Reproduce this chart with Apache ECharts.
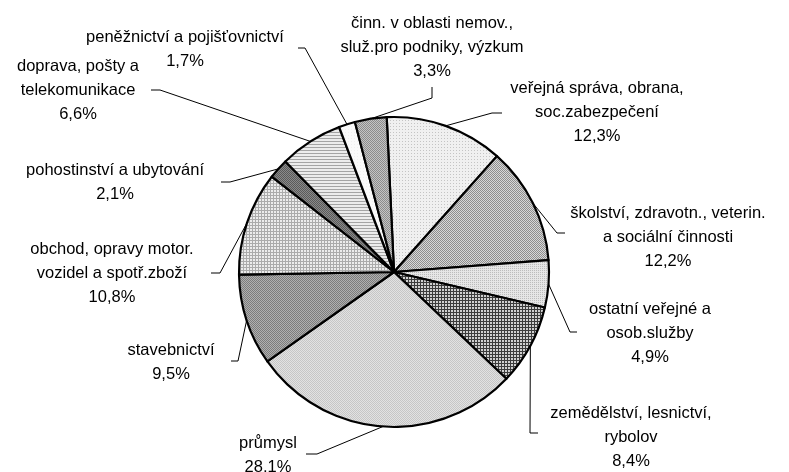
<!DOCTYPE html>
<html>
<head>
<meta charset="utf-8">
<script src="https://cdn.jsdelivr.net/npm/echarts@6/dist/echarts.min.js"></script>
<style>
html,body{margin:0;padding:0;background:#fff;}
#chart{width:789px;height:472px;}
</style>
</head>
<body>
<div id="chart"></div>
<script>
// ---- data ----
var categories = [
  "veřejná správa, obrana,\nsoc.zabezpečení",
  "školství, zdravotn., veterin.\na sociální činnosti",
  "ostatní veřejné a\nosob.služby",
  "zemědělství, lesnictví,\nrybolov",
  "průmysl",
  "stavebnictví",
  "obchod, opravy motor.\nvozidel a spotř.zboží",
  "pohostinství a ubytování",
  "doprava, pošty a\ntelekomunikace",
  "peněžnictví a pojišťovnictví",
  "činn. v oblasti nemov.,\nslu\u017e.pro podniky, výzkum"
];
var shares = [12.3, 12.2, 4.9, 8.4, 28.1, 9.5, 10.8, 2.1, 6.6, 1.7, 3.3];

// ---- layout (label centres and leader elbows) ----
var labelPos = [
  [597, 112], [668, 237], [650, 333], [631, 437], [268, 455],
  [171, 362], [112, 273], [115, 182], [78, 90], [185, 49], [432, 47]
];
var leaderPts = [
  [[492, 113], [502, 113]],
  [[557, 233], [565, 233]],
  [[570, 332], [577, 332]],
  [[530, 433], [538, 433]],
  [[317, 454], [306, 454]],
  [[238, 361], [231, 361]],
  [[220, 273], [211, 273]],
  [[230, 182], [221, 182]],
  [[160, 90], [151, 90]],
  [[305, 48], [298, 48]],
  [[432, 98], [432, 87]]
];

// ---- fill patterns ----
function pattern(bg, fg, type, step) {
  var c = document.createElement('canvas');
  step = step || 3;
  c.width = step; c.height = step;
  var ctx = c.getContext('2d');
  ctx.fillStyle = bg; ctx.fillRect(0, 0, step, step);
  ctx.fillStyle = fg;
  if (type === 'dots') { ctx.fillRect(0, 0, 1, 1); }
  else if (type === 'checker') { ctx.fillRect(0, 0, 1, 1); ctx.fillRect(1, 1, 1, 1); }
  else if (type === 'grid') { ctx.fillRect(0, 0, step, 1); ctx.fillRect(0, 0, 1, step); }
  else if (type === 'hstripe') { ctx.fillRect(0, 0, step, 1); }
  return { image: c, repeat: 'repeat' };
}
var fills = [
  pattern('#f0f0f0', '#c4c4c4', 'dots', 3),
  pattern('#d8d8d8', '#8e8e8e', 'checker', 2),
  pattern('#e6e6e6', '#bcbcbc', 'dots', 2),
  pattern('#d0d0d0', '#3c3c3c', 'grid', 3),
  pattern('#e2e2e2', '#c6c6c6', 'checker', 2),
  pattern('#b0b0b0', '#7c7c7c', 'checker', 2),
  pattern('#ececec', '#ababab', 'grid', 3),
  pattern('#8a8a8a', '#5a5a5a', 'checker', 2),
  pattern('#ececec', '#a4a4a4', 'hstripe', 3),
  pattern('#fafafa', '#f0f0f0', 'dots', 3),
  pattern('#c4c4c4', '#8c8c8c', 'checker', 2)
];

var data = categories.map(function (n, i) {
  return { name: n, value: shares[i], itemStyle: { color: fills[i] } };
});

var chart = echarts.init(document.getElementById('chart'), null, { renderer: 'canvas' });
chart.setOption({
  animation: false,
  backgroundColor: '#ffffff',
  series: [{
    type: 'pie',
    center: [394, 272],
    radius: [0, 155],
    startAngle: 92.7,
    clockwise: true,
    avoidLabelOverlap: false,
    data: data,
    itemStyle: { borderColor: '#000', borderWidth: 2.2 },
    emphasis: { disabled: true },
    label: {
      show: true,
      position: 'outside',
      color: '#000',
      fontFamily: 'Arial, "Liberation Sans", sans-serif',
      fontSize: 16.5,
      lineHeight: 24,
      align: 'center',
      formatter: function (p) {
        return p.name + '\n' + p.value.toFixed(1).replace('.', ',') + '%';
      }
    },
    labelLine: {
      show: true, smooth: false, length: 10, length2: 10,
      lineStyle: { color: '#000', width: 1 }
    },
    labelLayout: function (params) {
      var i = params.dataIndex;
      var p0 = params.labelLinePoints ? params.labelLinePoints[0] : null;
      var res = {
        x: labelPos[i][0], y: labelPos[i][1],
        align: 'center', verticalAlign: 'middle',
        hideOverlap: false, moveOverlap: false
      };
      if (p0) {
        res.labelLinePoints = [p0, leaderPts[i][0], leaderPts[i][1]];
      }
      return res;
    }
  }]
});
</script>
</body>
</html>
